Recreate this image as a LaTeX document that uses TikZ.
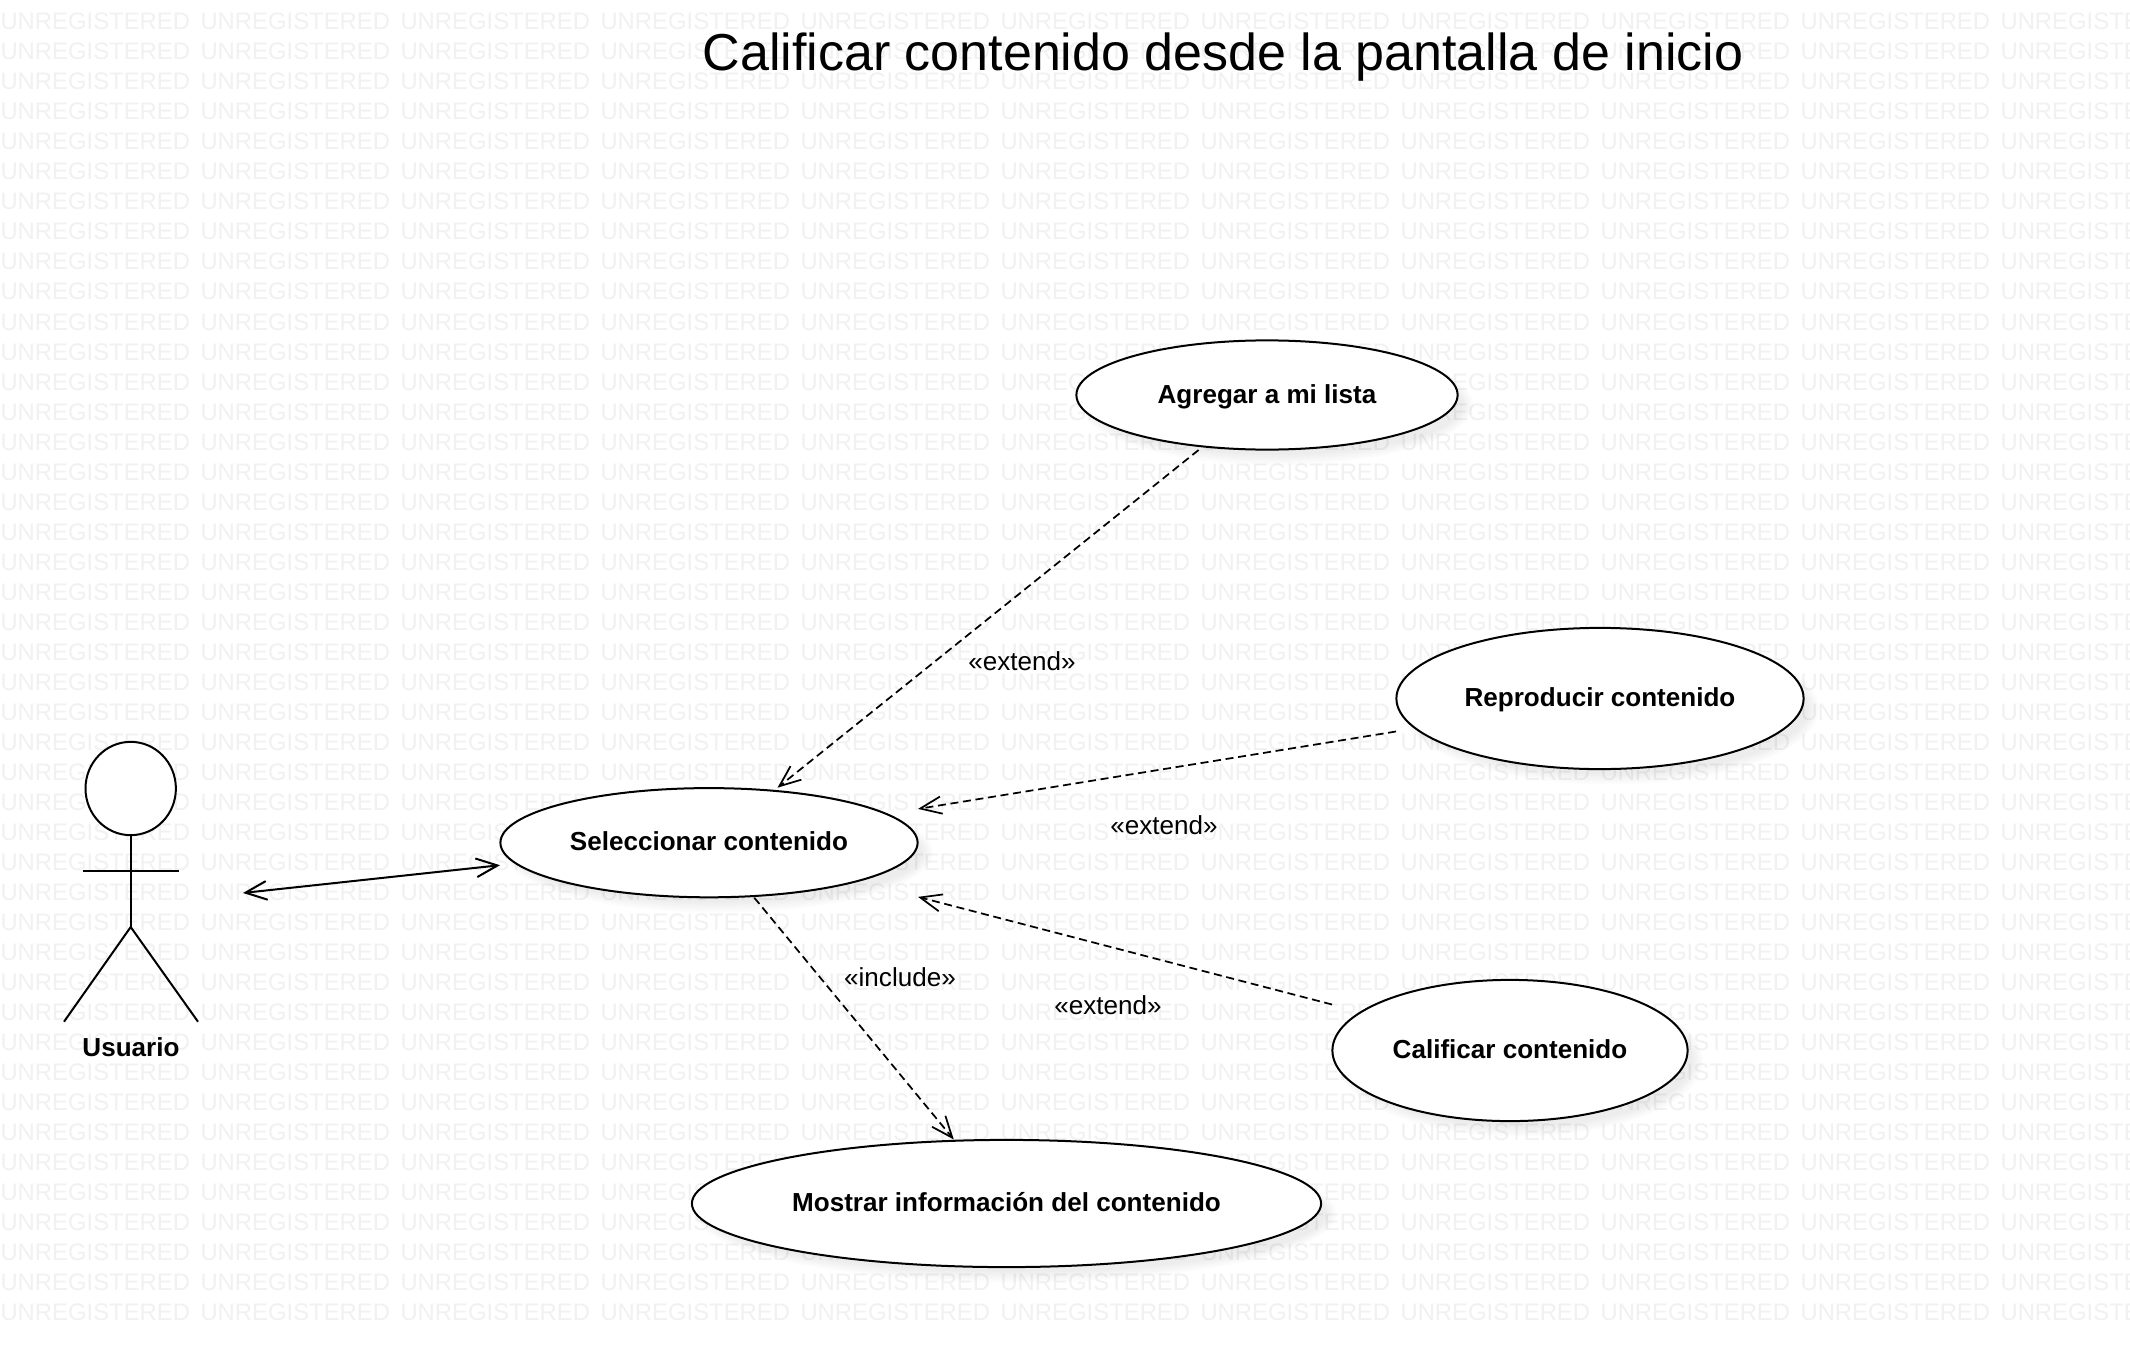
\documentclass[tikz,border=0pt]{standalone}
\usepackage{fontspec}
\setmainfont{Liberation Sans}
\usetikzlibrary{arrows.meta,shapes.geometric}
\definecolor{wmgray}{HTML}{F1F1F1}
\tikzset{
  x=0.75pt,y=-0.75pt,
  wm/.style={anchor=base west,inner sep=0pt,outer sep=0pt,text=wmgray,font=\fontsize{17.9pt}{20pt}\selectfont},
  usecase/.style={ellipse,draw=black,fill=white,line width=1.5pt,inner sep=0pt,outer sep=0pt,align=center,text height=16pt,text depth=4pt,font=\fontsize{19.55pt}{22pt}\selectfont\bfseries},
  ucbox/.style={rectangle,inner sep=0pt,outer sep=0pt},
  stereo/.style={inner sep=0pt,outer sep=0pt,font=\fontsize{19.55pt}{22pt}\selectfont},
  limb/.style={line width=1.5pt,draw=black},
  assoc/.style={line width=1.5pt,draw=black,{Straight Barb[length=16pt,width=14pt,line width=1.5pt]}-{Straight Barb[length=16pt,width=14pt,line width=1.5pt]}},
  depend/.style={line width=1.3pt,draw=black,dash pattern=on 6pt off 3.5pt,-{Straight Barb[length=16pt,width=13pt,line width=1.3pt]}},
}
\newcommand{\usecasenode}[6]{%
  \foreach \g in {5,3,1,-1,-3,-5}{%
    \fill[black,opacity=.013] (#2+10,#3+10) ellipse [x radius=#4/2+\g,y radius=#5/2+\g];
  }%
  \node[usecase,minimum width=#4*0.75pt-0.6pt,minimum height=#5*0.75pt-0.6pt] (#1) at (#2,#3) {#6};
  \node[ucbox,minimum width=#4*0.75pt,minimum height=#5*0.75pt] (#1B) at (#2,#3) {};
}
\begin{document}
\begin{tikzpicture}
\useasboundingbox (0,0) rectangle (2130,1348);
\fill[white] (0,0) rectangle (2130,1348);
\begin{scope}
  \clip (0,0) rectangle (2130,1348);
  \foreach \r in {-1,...,43}{
    \foreach \c in {0,...,10}{
      \node[wm,name=wm-\c-\r] at (0.5+200*\c,30+30*\r) {UNREGISTERED};
    }
  }
\end{scope}

\node[inner sep=0pt,anchor=base,font=\fontsize{39pt}{44pt}\selectfont] (title) at (1223,71) {Calificar contenido desde la pantalla de inicio};

\usecasenode{agregar}{1267}{395}{382}{110}{Agregar a mi lista}
\usecasenode{reproducir}{1600}{698.5}{408}{142}{Reproducir contenido}
\usecasenode{sel}{709}{842.7}{418}{110}{Seleccionar contenido}
\usecasenode{calificar}{1510}{1050.5}{356}{142}{Calificar contenido}
\usecasenode{mostrar}{1006.5}{1203.5}{630}{128}{Mostrar información del contenido}

% actor
\node[ellipse,draw=black,fill=white,line width=1.5pt,inner sep=0pt,minimum width=67.8pt,minimum height=70pt] (head) at (130.7,788.5) {};
\coordinate (neck) at (130.7,927);
\coordinate (armL) at (82.7,870.7);
\coordinate (armR) at (179,870.7);
\coordinate (legL) at (64,1021.7);
\coordinate (legR) at (198,1021.7);
\draw[limb] (head.south) -- (neck);
\draw[limb] (armL) -- (armR);
\draw[limb] (legL) -- (neck) -- (legR);
\node[anchor=base,inner sep=0pt,font=\fontsize{19.55pt}{22pt}\selectfont\bfseries] (usuario) at (131,1056) {Usuario};
\node[ucbox,minimum width=168pt,minimum height=246pt] (actorB) at (131,905) {};

% connectors
\draw[assoc] (actorB) -- (selB);
\draw[depend] (agregarB) -- (selB);
\draw[depend] (reproducirB) -- (selB);
\draw[depend] (calificarB) -- (selB);
\draw[depend] (selB) -- (mostrarB);

% labels
\node[stereo] (l1) at (1022,661.5) {«extend»};
\node[stereo] (l2) at (1164,825.5) {«extend»};
\node[stereo] (l3) at (1108,1005) {«extend»};
\node[stereo] (l4) at (900,977.5) {«include»};
\end{tikzpicture}
\end{document}
